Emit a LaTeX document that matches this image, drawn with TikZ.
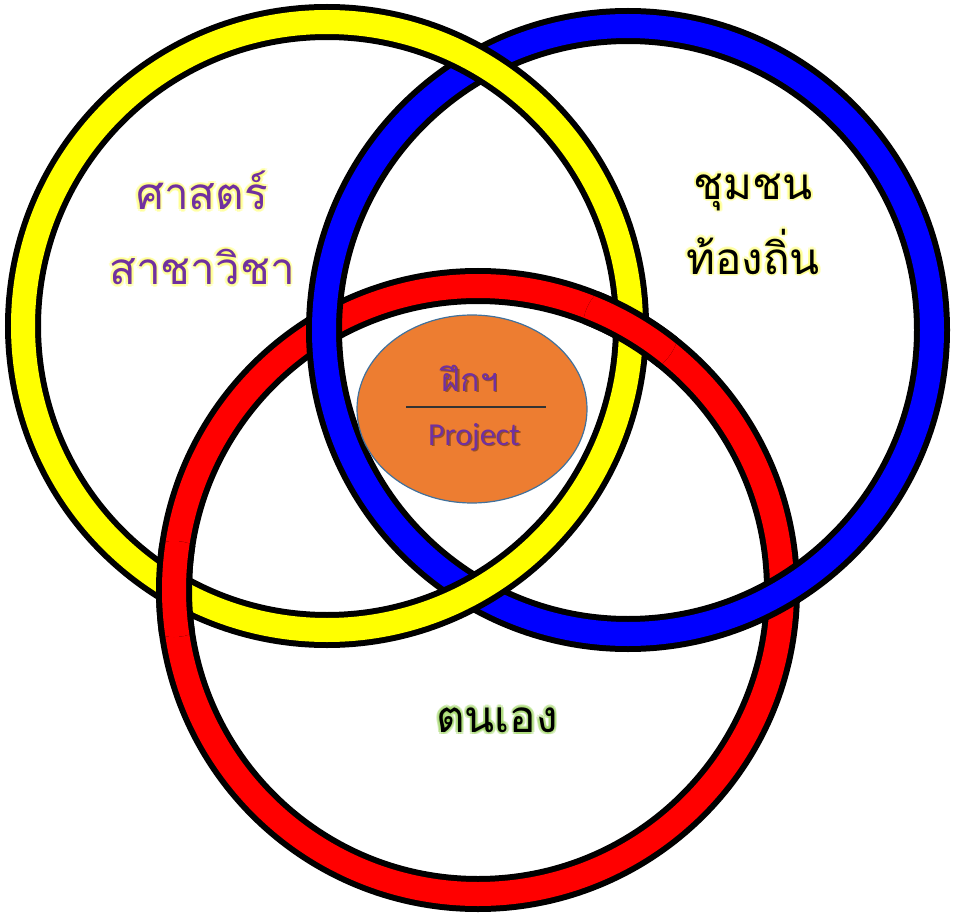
\documentclass[tikz,border=0pt]{standalone}
\usepackage{fontspec}
\usepackage{tikz}
\usetikzlibrary{shapes.geometric,calc}
\newfontfamily\thaifont[Script=Thai]{Loma}
\newfontfamily\latinfont{Carlito}
\definecolor{ringyellow}{HTML}{FFFF00}
\definecolor{ringblue}{HTML}{0000FF}
\definecolor{ringred}{HTML}{FF0000}
\definecolor{coreorange}{HTML}{ED7D31}
\definecolor{coreedge}{HTML}{41719C}
\definecolor{labelpurple}{HTML}{7030A0}
\definecolor{glowyellow}{HTML}{FFFF66}
\definecolor{glowgreen}{HTML}{92D050}

\tikzset{
  ring/.style={line width=6pt, double=#1, double distance=24pt},
  biglabel/.style={font=\thaifont\fontsize{44}{75}\selectfont, align=center, inner sep=0pt},
  smalllabel/.style={font=\thaifont\fontsize{32}{38}\selectfont, inner sep=0pt}
}

% text with a soft halo round it
\newcommand\glowlabel[6]{%
  \foreach \a in {0,45,...,315}{
    \node[#6, text=#3, text opacity=0.35] at ($(#2)+(\a:2.6)$) {#5};
  }
  \node[#6, text=#4] (#1) at (#2) {#5};
}
% text with a light shadow
\newcommand\shadowlabel[4]{%
  \node[#4, text=black, text opacity=0.35] at ($(#2)+(1.6,1.6)$) {#3};
  \node[#4, text=labelpurple] (#1) at (#2) {#3};
}

\begin{document}
\begin{tikzpicture}[x=1pt,y=-1pt]
\useasboundingbox (0,0) rectangle (954,915);

\coordinate (cy) at (327,326);
\coordinate (cb) at (628,330);
\coordinate (cr) at (478,590);

% rings: red under blue, blue under yellow
\draw[ring=ringred] (cr) circle[radius=304];
\draw[ring=ringblue] (cb) circle[radius=304];
\draw[ring=ringyellow] (cy) circle[radius=304];

% red goes over yellow at both crossings
\begin{scope}
  \clip (631,327) circle[radius=48] (174,589) circle[radius=48];
  \draw[ring=ringred] (cr) circle[radius=304];
\end{scope}

% centre
\node[ellipse, minimum width=230pt, minimum height=188pt, fill=coreorange,
      draw=coreedge, line width=1.2pt] (core) at (472,409) {};
\draw[line width=1.2pt, black!80] ($(core.center)+(-66,-2)$) -- ($(core.center)+(74,-2)$);

\shadowlabel{fik}{470,378}{ฝึกฯ}{smalllabel}
\shadowlabel{project}{474,437}{\latinfont Project}{smalllabel}

% labels in the rings
\glowlabel{sat}{202,228}{glowyellow}{labelpurple}{ศาสตร์\\สาชาวิชา}{biglabel}
\glowlabel{chum}{753,224}{glowyellow}{black}{ชุมชน\\ท้องถิ่น}{biglabel}
\glowlabel{self}{497,720}{glowgreen}{black}{ตนเอง}{biglabel}
\end{tikzpicture}
\end{document}
